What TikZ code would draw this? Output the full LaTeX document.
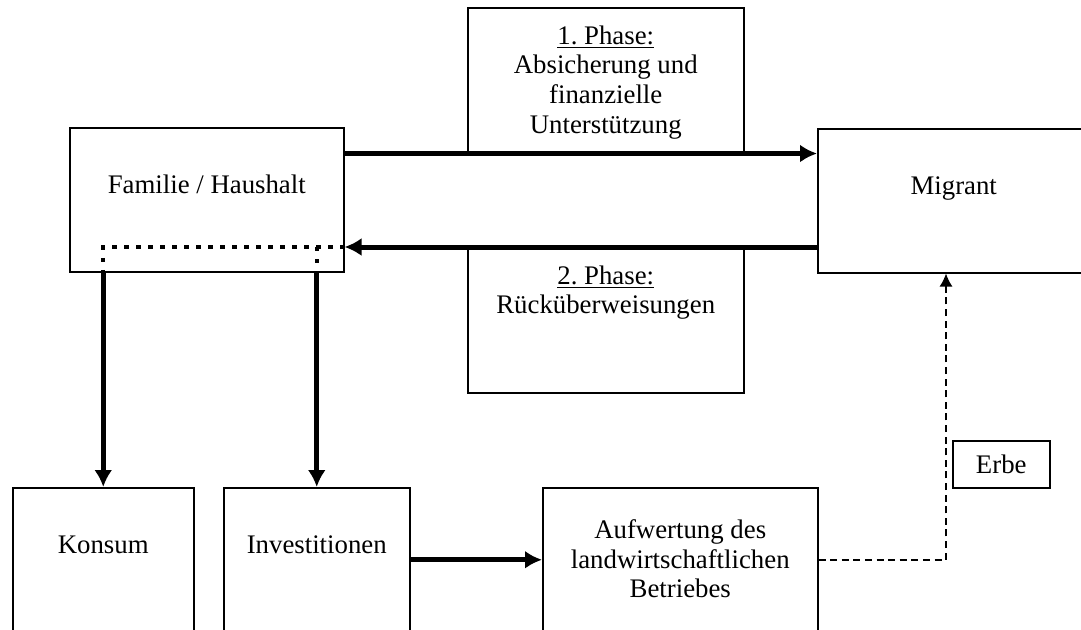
\documentclass[tikz,border=0pt]{standalone}
\usepackage{fontspec}
\setmainfont{Liberation Serif}
\frenchspacing
\usetikzlibrary{arrows.meta}
\tikzstyle{block} = [draw, rectangle, line width=0.75pt, inner sep=0pt, anchor=north west, minimum height=72pt]
\tikzstyle{txt} = [inner sep=0pt, align=center, font=\fontsize{13.4pt}{14.9pt}\selectfont]
\tikzstyle{flow} = [line width=2.5pt, -{Latex[length=8.5pt,width=9pt]}]
\tikzstyle{dotline} = [line width=2.2pt, dash pattern=on 2.2pt off 3.8pt]
\tikzstyle{dashline} = [line width=0.75pt, dash pattern=on 3.5pt off 2.3pt, -{Latex[length=6.5pt,width=6.5pt]}]

\begin{document}
\begin{tikzpicture}[x=0.5pt, y=-0.5pt]
    \path [use as bounding box, clip] (0,0) rectangle (1081,629);
    \fill [white] (0,0) rectangle (1081,629);
    % boxes
    \node [block, minimum width=137pt] (fam) at (69,127) {};
    \node [block, minimum width=136pt] (mig) at (817,128) {};
    \node [block, minimum width=138pt, minimum height=72.5pt] (p1) at (467,7) {};
    \node [block, minimum width=138pt, minimum height=72.5pt] (p2) at (467,247) {};
    \node [block, minimum width=90.5pt] (kons) at (12,487) {};
    \node [block, minimum width=93pt] (inv) at (223,487) {};
    \node [block, minimum width=137.5pt] (aufw) at (542,487) {};
    \node [block, minimum width=48.5pt, minimum height=23.5pt] (erbe) at (952,440) {};
    % texts
    \node [txt, anchor=base] (famtxt) at ([yshift=-33pt]fam.north) {Familie / Haushalt};
    \node [txt, anchor=base] (migtxt) at ([yshift=-33pt]mig.north) {Migrant};
    \node [txt, anchor=north] (p1txt) at ([yshift=-9pt]p1.north) {\underline{1. Phase:}\\ Absicherung und\\ finanzielle\\ Unterstützung};
    \node [txt, anchor=north] (p2txt) at ([yshift=-9pt]p2.north) {\underline{2. Phase:}\\ Rücküberweisungen};
    \node [txt, anchor=base] (konstxt) at ([yshift=-33pt]kons.north) {Konsum};
    \node [txt, anchor=base] (invtxt) at ([yshift=-33pt]inv.north) {Investitionen};
    \node [txt, anchor=north] (aufwtxt) at ([yshift=-16pt]aufw.north) {Aufwertung des\\ landwirtschaftlichen\\ Betriebes};
    \node [txt, anchor=base] (erbetxt) at ([yshift=-16.5pt]erbe.north) {Erbe};
    % connectors
    \draw [flow] (fam.east |- p1.south) -- (mig.west |- p1.south);
    \draw [flow] (mig.west |- p2.north) -- (fam.east |- p2.north);
    \draw [dotline] (fam.east |- p2.north) -| (kons.north |- fam.south);
    \draw [dotline] (inv.north |- p2.north) -- (inv.north |- fam.south);
    \draw [flow] (kons.north |- fam.south) -- (kons.north);
    \draw [flow] (inv.north |- fam.south) -- (inv.north);
    \draw [flow] (inv.east) -- (aufw.west);
    \draw [dashline] (aufw.east) -| ([xshift=-3pt]erbe.west |- mig.south);
\end{tikzpicture}
\end{document}
